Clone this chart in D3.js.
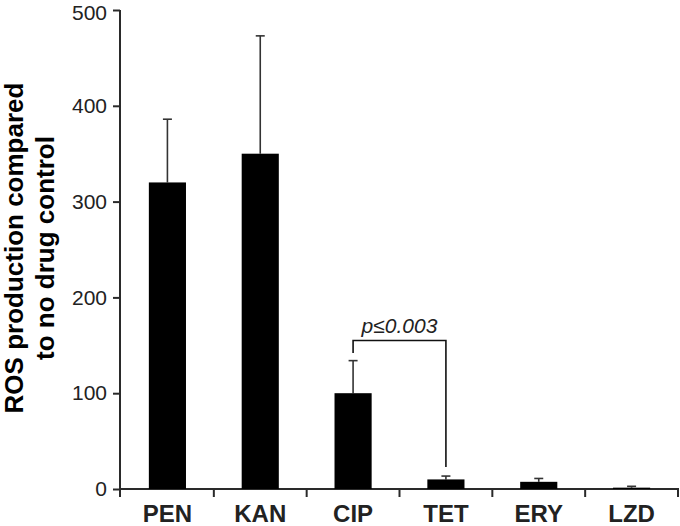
<!DOCTYPE html>
<html lang="en">
  <head>
    <meta charset="utf-8">
    <title>ROS production</title>
    <script src="https://d3js.org/d3.v7.min.js"></script>
    <style type="text/css">
        body {
          margin: 0;
          background: #fff;
        }
        .chart text {
          font-family: "Liberation Sans", Arial, Helvetica, sans-serif;
          fill: #222;
        }
        .axis path, .axis line {
          stroke: #2a2a2a;
          stroke-width: 2px;
        }
        .bar {
          fill: #000;
        }
        .err line {
          stroke: #333;
          stroke-width: 1.6px;
        }
        .bracket {
          fill: none;
          stroke: #111;
          stroke-width: 1.6px;
        }
    </style>
  </head>
  <body>
    <div class="chart" id="chart"></div>
    <script>
        // data
        var drugs = ["PEN", "KAN", "CIP", "TET", "ERY", "LZD"];
        var means = [320, 350, 100, 10, 7.5, 1.4];
        var errUp = [386, 473, 134, 13.5, 11, 2.8];
        var yTicks = [0, 100, 200, 300, 400, 500];
        // significance bracket CIP vs TET
        var bracketPair = ["CIP", "TET"];
        var bracketLevel = 155;
        var bracketEnds = [142, 23];
        var bracketLabel = "p\u22640.003";

        var width = 680, height = 526;

        var svg = d3.select("#chart").append("svg")
            .attr("width", width)
            .attr("height", height);

        var x = d3.scaleBand()
            .domain(drugs)
            .range([121, 678])
            .paddingInner(0.6)
            .paddingOuter(0.3);

        var xTicksScale = d3.scaleBand().domain(drugs).range([121, 678]);

        var y = d3.scaleLinear()
            .domain([0, 500])
            .range([489, 10]);

        // y axis
        var yAxis = svg.append("g")
            .attr("class", "axis")
            .attr("transform", "translate(120,0)")
            .call(d3.axisLeft(y).tickValues(yTicks).tickSize(7).tickPadding(6));
        yAxis.select(".domain").remove();
        yAxis.append("line")
            .attr("x1", 0).attr("x2", 0)
            .attr("y1", y(500)).attr("y2", 497);
        yAxis.selectAll(".tick text")
            .attr("font-size", "21px")
            .attr("font-family", "Liberation Sans, Arial, sans-serif")
            .style("fill", "#222");
        // keep the top label inside the frame
        yAxis.selectAll(".tick text")
            .filter(function(d) { return d === 500; })
            .attr("y", 2.5);

        // x axis: line + boundary ticks
        var xAxis = svg.append("g").attr("class", "axis");
        xAxis.append("line")
            .attr("x1", 120).attr("x2", 679)
            .attr("y1", 489).attr("y2", 489);
        var bounds = drugs.map(function(d) { return xTicksScale(d); }).concat([678]);
        xAxis.selectAll(".xt")
            .data(bounds.slice(1))
            .enter().append("line")
              .attr("class", "xt")
              .attr("x1", function(d) { return d; })
              .attr("x2", function(d) { return d; })
              .attr("y1", 489).attr("y2", 497);
        xAxis.selectAll(".xl")
            .data(drugs)
            .enter().append("text")
              .attr("class", "xl")
              .attr("x", function(d) { return x(d) + x.bandwidth() / 2; })
              .attr("y", 522)
              .attr("text-anchor", "middle")
              .attr("font-size", "24px")
              .attr("font-weight", "bold")
              .text(function(d) { return d; });

        // error bars (upper only)
        var err = svg.append("g").attr("class", "err");
        drugs.forEach(function(d, i) {
          var cx = x(d) + x.bandwidth() / 2;
          err.append("line")
              .attr("x1", cx).attr("x2", cx)
              .attr("y1", y(means[i])).attr("y2", y(errUp[i]));
          err.append("line")
              .attr("x1", cx - 4.5).attr("x2", cx + 4.5)
              .attr("y1", y(errUp[i])).attr("y2", y(errUp[i]));
        });

        // bars
        svg.append("g")
          .selectAll("rect")
          .data(drugs)
          .enter().append("rect")
            .attr("class", "bar")
            .attr("x", function(d) { return x(d); })
            .attr("width", x.bandwidth())
            .attr("y", function(d, i) { return y(means[i]); })
            .attr("height", function(d, i) { return y(0) - y(means[i]); });

        // bracket
        var bx1 = x(bracketPair[0]) + x.bandwidth() / 2;
        var bx2 = x(bracketPair[1]) + x.bandwidth() / 2;
        svg.append("path")
            .attr("class", "bracket")
            .attr("d", "M" + bx1 + "," + y(bracketEnds[0]) +
                       "V" + y(bracketLevel) +
                       "H" + bx2 +
                       "V" + y(bracketEnds[1]));
        svg.append("text")
            .attr("x", (bx1 + bx2) / 2)
            .attr("y", y(bracketLevel) - 8)
            .attr("text-anchor", "middle")
            .attr("font-size", "21px")
            .attr("font-style", "italic")
            .text(bracketLabel);

        // y title
        var title = svg.append("text")
            .attr("transform", "translate(23,248) rotate(-90)")
            .attr("text-anchor", "middle")
            .attr("font-size", "26px")
            .attr("font-weight", "bold")
            .style("fill", "#000");
        title.append("tspan").attr("x", 0).attr("y", 0).text("ROS production compared");
        title.append("tspan").attr("x", 0).attr("y", 31).text("to no drug control");
    </script>
  </body>
</html>
